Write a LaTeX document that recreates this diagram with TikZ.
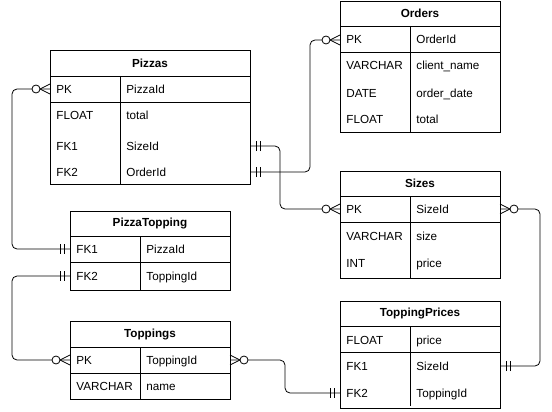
\documentclass[tikz,border=0pt]{standalone}
\usepackage{fontspec}
\setmainfont{Liberation Sans}
\begin{document}
\begin{tikzpicture}[x=1pt,y=-1pt,line width=0.8pt,
  tbl/.style={draw,rectangle,inner sep=0pt,outer sep=0pt},
  hdr/.style={font=\fontsize{11.7}{13}\selectfont\bfseries,inner sep=0pt},
  cell/.style={anchor=west,inner sep=0pt,text height=8pt,text depth=0pt,font=\fontsize{11.7}{13}\selectfont},
  conn/.style={rounded corners=5pt},
  zm/.pic={\draw (0,-5) -- (-10,0) -- (0,5);
           \draw[fill=white] (-14,0) circle[radius=4];},
  mo/.pic={\draw (-6,-5) -- (-6,5) (-10,-5) -- (-10,5);}
]
\useasboundingbox (0,0) rectangle (552,412);

% ---------- Pizzas ----------
\node[tbl,minimum width=200pt,minimum height=134pt] (pz) at (150,117) {};
\draw ([yshift=-26pt]pz.north west) -- ([yshift=-26pt]pz.north east);
\draw ([yshift=-52pt]pz.north west) -- ([yshift=-52pt]pz.north east);
\draw ([xshift=70pt,yshift=-26pt]pz.north west) -- ([xshift=70pt]pz.south west);
\node[hdr] (pzh) at ([yshift=-13pt]pz.north) {Pizzas};
\node[cell] (pzk1) at (56,89) {PK};     \node[cell] (pzv1) at (126,89) {PizzaId};
\node[cell] (pzk2) at (56,115) {FLOAT}; \node[cell] (pzv2) at (126,115) {total};
\node[cell] (pzk3) at (56,146) {FK1};   \node[cell] (pzv3) at (126,146) {SizeId};
\node[cell] (pzk4) at (56,172) {FK2};   \node[cell] (pzv4) at (126,172) {OrderId};

% ---------- Orders ----------
\node[tbl,minimum width=160pt,minimum height=131pt] (or) at (420,66.5) {};
\draw ([yshift=-25pt]or.north west) -- ([yshift=-25pt]or.north east);
\draw ([yshift=-51pt]or.north west) -- ([yshift=-51pt]or.north east);
\draw ([xshift=70pt,yshift=-25pt]or.north west) -- ([xshift=70pt]or.south west);
\node[hdr] (orh) at ([yshift=-12.5pt]or.north) {Orders};
\node[cell] (ork1) at (346,40) {PK};      \node[cell] (orv1) at (416,40) {OrderId};
\node[cell] (ork2) at (346,66) {VARCHAR}; \node[cell] (orv2) at (416,66) {client\_name};
\node[cell] (ork3) at (346,94) {DATE};    \node[cell] (orv3) at (416,94) {order\_date};
\node[cell] (ork4) at (346,120) {FLOAT};  \node[cell] (orv4) at (416,120) {total};

% ---------- Sizes ----------
\node[tbl,minimum width=160pt,minimum height=107pt] (sz) at (420,224.5) {};
\draw ([yshift=-25pt]sz.north west) -- ([yshift=-25pt]sz.north east);
\draw ([yshift=-51pt]sz.north west) -- ([yshift=-51pt]sz.north east);
\draw ([xshift=70pt,yshift=-25pt]sz.north west) -- ([xshift=70pt]sz.south west);
\node[hdr] (szh) at ([yshift=-12.5pt]sz.north) {Sizes};
\node[cell] (szk1) at (346,209) {PK};      \node[cell] (szv1) at (416,209) {SizeId};
\node[cell] (szk2) at (346,236) {VARCHAR}; \node[cell] (szv2) at (416,236) {size};
\node[cell] (szk3) at (346,263) {INT};     \node[cell] (szv3) at (416,263) {price};

% ---------- PizzaTopping ----------
\node[tbl,minimum width=160pt,minimum height=79pt] (pt) at (150,250.5) {};
\draw ([yshift=-25pt]pt.north west) -- ([yshift=-25pt]pt.north east);
\draw ([yshift=-51pt]pt.north west) -- ([yshift=-51pt]pt.north east);
\draw ([xshift=70pt,yshift=-25pt]pt.north west) -- ([xshift=70pt]pt.south west);
\node[hdr] (pth) at ([yshift=-12.5pt]pt.north) {PizzaTopping};
\node[cell] (ptk1) at (76,249) {FK1}; \node[cell] (ptv1) at (146,249) {PizzaId};
\node[cell] (ptk2) at (76,276) {FK2}; \node[cell] (ptv2) at (146,276) {ToppingId};

% ---------- Toppings ----------
\node[tbl,minimum width=160pt,minimum height=78pt] (tg) at (150,360) {};
\draw ([yshift=-26pt]tg.north west) -- ([yshift=-26pt]tg.north east);
\draw ([yshift=-52pt]tg.north west) -- ([yshift=-52pt]tg.north east);
\draw ([xshift=70pt,yshift=-26pt]tg.north west) -- ([xshift=70pt]tg.south west);
\node[hdr] (tgh) at ([yshift=-13pt]tg.north) {Toppings};
\node[cell] (tgk1) at (76,360) {PK};      \node[cell] (tgv1) at (146,360) {ToppingId};
\node[cell] (tgk2) at (76,386) {VARCHAR}; \node[cell] (tgv2) at (146,386) {name};

% ---------- ToppingPrices ----------
\node[tbl,minimum width=160pt,minimum height=107pt] (tp) at (420,354.5) {};
\draw ([yshift=-25pt]tp.north west) -- ([yshift=-25pt]tp.north east);
\draw ([yshift=-51pt]tp.north west) -- ([yshift=-51pt]tp.north east);
\draw ([xshift=70pt,yshift=-25pt]tp.north west) -- ([xshift=70pt,yshift=2pt]tp.south west);
\node[hdr] (tph) at ([yshift=-12.5pt]tp.north) {ToppingPrices};
\node[cell] (tpk1) at (346,340) {FLOAT}; \node[cell] (tpv1) at (416,340) {price};
\node[cell] (tpk2) at (346,366) {FK1};   \node[cell] (tpv2) at (416,366) {SizeId};
\node[cell] (tpk3) at (346,393) {FK2};   \node[cell] (tpv3) at (416,393) {ToppingId};

% ---------- connectors ----------
\draw[conn] (pz.west |- pzk1) -- ++(-38,0) |- (pt.west |- ptk1);
\draw[conn] (pt.west |- ptk2) -- ++(-58,0) |- (tg.west |- tgk1);
\draw[conn] (pz.east |- pzk3) -- ++(30,0) |- (sz.west |- szk1);
\draw[conn] (pz.east |- pzk4) -- ++(60,0) |- (or.west |- ork1);
\draw[conn] (sz.east |- szk1) -- ++(40,0) |- (tp.east |- tpk2);
\draw[conn] (tg.east |- tgk1) -- ++(55,0) |- (tp.west |- tpk3);

% ---------- end markers ----------
\pic at (pz.west |- pzk1) {zm};
\pic at (pt.west |- ptk1) {mo};
\pic at (pt.west |- ptk2) {mo};
\pic at (tg.west |- tgk1) {zm};
\pic[rotate=180] at (pz.east |- pzk3) {mo};
\pic at (sz.west |- szk1) {zm};
\pic[rotate=180] at (pz.east |- pzk4) {mo};
\pic at (or.west |- ork1) {zm};
\pic[rotate=180] at (sz.east |- szk1) {zm};
\pic[rotate=180] at (tp.east |- tpk2) {mo};
\pic[rotate=180] at (tg.east |- tgk1) {zm};
\pic at (tp.west |- tpk3) {mo};
\end{tikzpicture}
\end{document}
